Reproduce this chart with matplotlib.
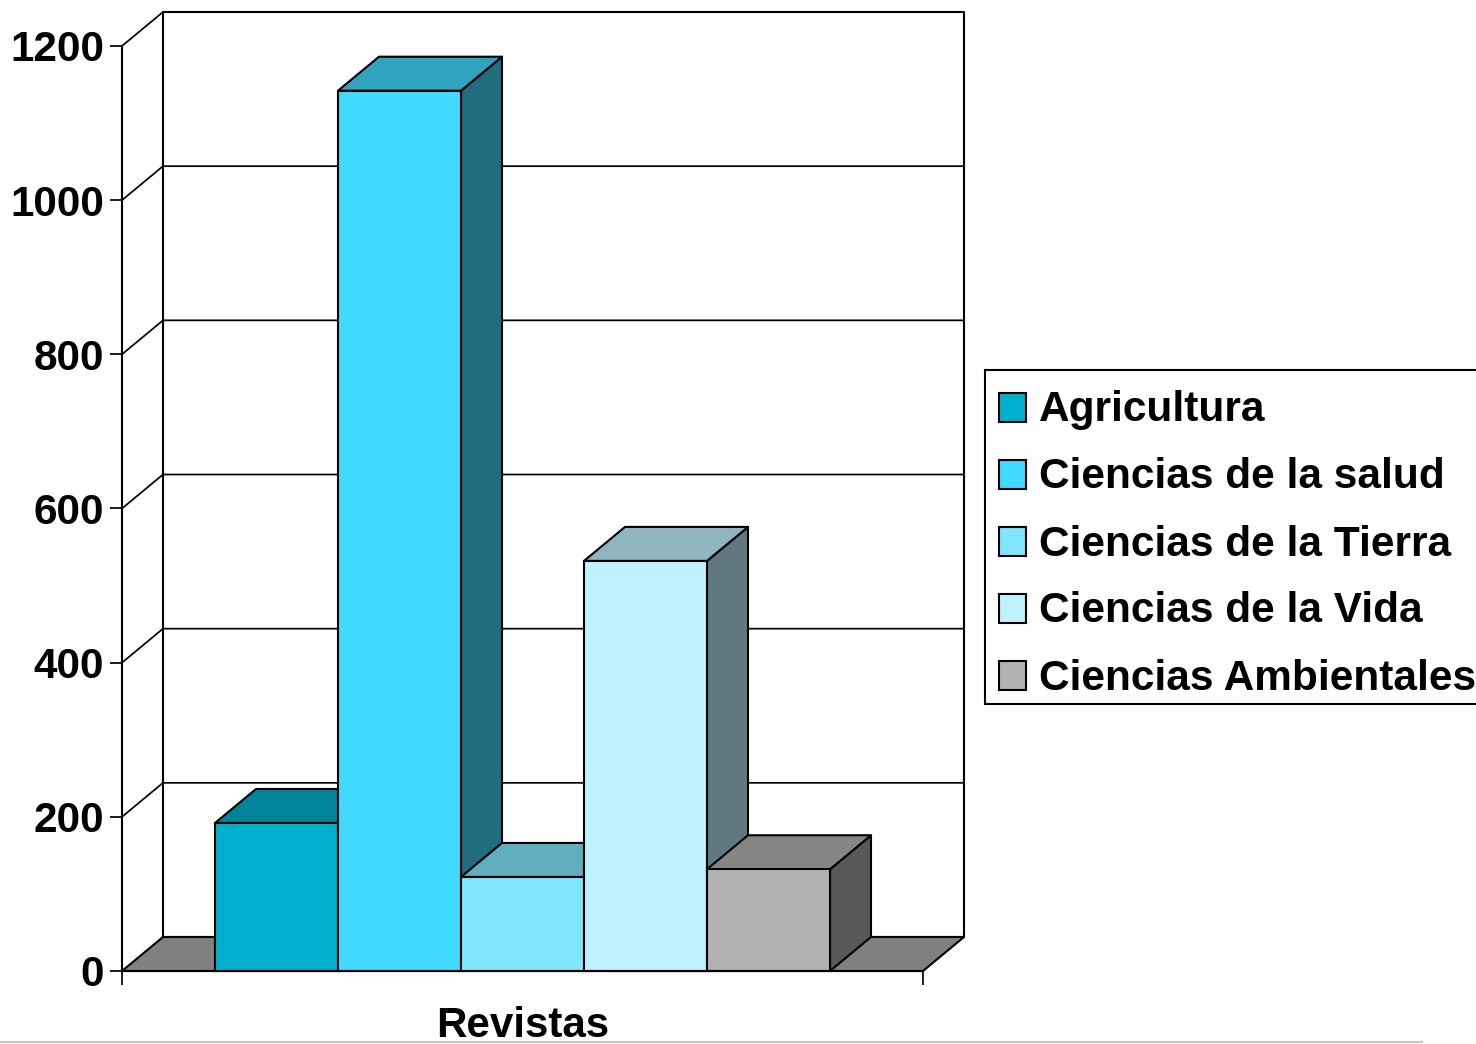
import matplotlib
matplotlib.use("Agg")
import matplotlib.pyplot as plt
import numpy as np

categories = ["Agricultura", "Ciencias de la salud", "Ciencias de la Tierra",
              "Ciencias de la Vida", "Ciencias Ambientales"]
values = [192, 1142, 122, 532, 132]
front_colors = ["#00B0CC", "#40DAFF", "#80E6FF", "#BFF2FF", "#B2B2B2"]
top_colors = ["#008499", "#30A4BF", "#60ADBF", "#8FB5BF", "#868686"]
side_colors = ["#005866", "#206D80", "#407380", "#607980", "#595959"]
y_ticks = [0, 200, 400, 600, 800, 1000, 1200]
x_label = "Revistas"

plt.rcParams["font.family"] = ["Liberation Sans", "DejaVu Sans"]
plt.rcParams["font.weight"] = "bold"

W, H = 1476, 1044
fig = plt.figure(figsize=(W/100, H/100), dpi=100, facecolor="white")
ax = fig.add_axes([122/W, (H-971)/H, 801/W, 925/H])

# one bar wide = 1 unit, the gap either side is 0.756 of a bar
gap = 0.756
x_min, x_max = -gap, len(values) + gap
ax.set_xlim(x_min, x_max)
ax.set_ylim(0, 1200)
# depth of the fake 3d box, in data units
dx = 41/801*(x_max - x_min)
dy = 34/925*1200
LW = 1.5


def poly(xs, ys, color, zorder=2):
    ax.fill(xs, ys, facecolor=color, edgecolor="black", linewidth=LW,
            joinstyle="round", clip_on=False, zorder=zorder)


def line(xs, ys, lw=1.25, zorder=1):
    ax.plot(xs, ys, color="black", linewidth=lw, clip_on=False, zorder=zorder)


# back wall, side wall lines and floor
top = 1200
line([x_min+dx, x_max+dx, x_max+dx, x_min+dx, x_min+dx],
     [dy, dy, top+dy, top+dy, dy], lw=LW)
line([x_min, x_min+dx], [top, top+dy])
for t in y_ticks[1:-1]:
    line([x_min, x_min+dx, x_max+dx], [t, t+dy, t+dy])
poly([x_min, x_max, x_max+dx, x_min+dx], [0, 0, dy, dy], "#808080")

# bars, left to right so the next one covers the previous side
for i, v in enumerate(values):
    x0, x1 = i, i + 1
    poly([x1, x1+dx, x1+dx, x1], [0, dy, v+dy, v], side_colors[i], 3)
    poly([x0, x1, x1+dx, x0+dx], [v, v, v+dy, v+dy], top_colors[i], 3)
    ax.bar(x0, v, width=1, align="edge", color=front_colors[i],
           edgecolor="black", linewidth=LW, zorder=3, clip_on=False)

for s in ["top", "right"]:
    ax.spines[s].set_visible(False)
for s in ["left", "bottom"]:
    ax.spines[s].set_linewidth(LW)
    ax.spines[s].set_zorder(5)
ax.patch.set_visible(False)
ax.set_yticks(y_ticks)
ax.set_xticks([x_min, x_max])
ax.set_xticklabels([])
ax.tick_params(axis="y", length=8.6, width=1.25, pad=4.1, labelsize=30.4)
ax.tick_params(axis="x", length=10, width=1.25)
ax.set_xlabel(x_label, fontsize=30.3, fontweight="bold", labelpad=12)

# legend and the grey rule at the bottom, laid out in pixels
over = fig.add_axes([0, 0, 1, 1])
over.set_xlim(0, W)
over.set_ylim(H, 0)
over.axis("off")
over.patch.set_visible(False)
over.add_patch(plt.Rectangle((985, 370), 500, 334, facecolor="white",
                             edgecolor="black", linewidth=1.5))
for i, name in enumerate(categories):
    yc = 407 + i*67
    over.add_patch(plt.Rectangle((999, yc-14.5), 27, 29,
                                 facecolor=front_colors[i],
                                 edgecolor="black", linewidth=1.5))
    over.text(1039, yc+3.5, name, fontsize=30.5, fontweight="bold",
              va="center", ha="left")
over.plot([0, 1422], [1042, 1042], color="#C8C8C8", linewidth=1.6)

fig.savefig("out.png", dpi=100)
